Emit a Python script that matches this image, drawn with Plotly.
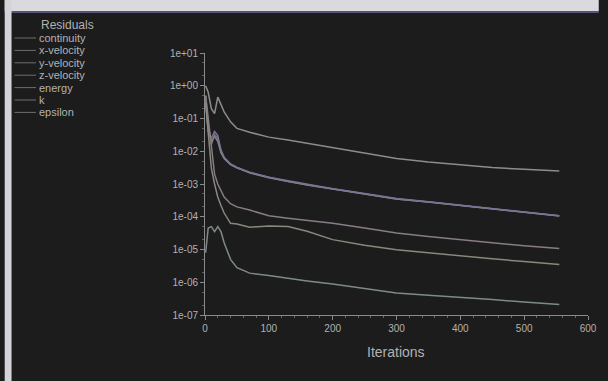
import plotly.graph_objects as go

# ---------------- data ----------------
iterations = [1, 5, 10, 15, 20, 25, 30, 40, 50, 70, 100, 130, 160, 200, 250, 300, 350, 400, 450, 500, 555]

continuity = [1.0, 0.63, 0.2, 0.14, 0.45, 0.25, 0.16, 0.079, 0.05, 0.038, 0.027, 0.022, 0.0174,
              0.0126, 8.5e-3, 6.0e-3, 4.7e-3, 3.8e-3, 3.2e-3, 2.8e-3, 2.5e-3]
x_velocity = [0.5, 0.063, 0.016, 0.032, 0.025, 0.01, 6.3e-3, 4.0e-3, 3.2e-3, 2.2e-3, 1.6e-3, 1.2e-3,
              9.5e-4, 7.1e-4, 5.0e-4, 3.5e-4, 2.8e-4, 2.2e-4, 1.8e-4, 1.4e-4, 1.07e-4]
y_velocity = [0.3, 0.05, 0.02, 0.028, 0.02, 9e-3, 6e-3, 3.9e-3, 3.1e-3, 2.2e-3, 1.55e-3, 1.2e-3,
              9.3e-4, 7e-4, 5e-4, 3.5e-4, 2.8e-4, 2.2e-4, 1.75e-4, 1.4e-4, 1.05e-4]
z_velocity = [0.4, 0.04, 0.025, 0.04, 0.03, 0.011, 6.5e-3, 4.1e-3, 3.2e-3, 2.3e-3, 1.6e-3, 1.25e-3,
              9.6e-4, 7.2e-4, 5.1e-4, 3.6e-4, 2.85e-4, 2.25e-4, 1.8e-4, 1.42e-4, 1.08e-4]
energy = [8e-6, 4.5e-5, 5e-5, 3.5e-5, 5e-5, 3.5e-5, 1.6e-5, 5e-6, 2.8e-6, 1.9e-6, 1.6e-6, 1.3e-6,
          1.1e-6, 8.9e-7, 6.3e-7, 4.7e-7, 4.0e-7, 3.5e-7, 2.95e-7, 2.5e-7, 2.1e-7]
k = [0.5, 0.1, 0.01, 2e-3, 1e-3, 6e-4, 4e-4, 2.5e-4, 2e-4, 1.6e-4, 1.07e-4, 9e-5, 7.9e-5,
     6.3e-5, 4.5e-5, 3.2e-5, 2.5e-5, 2.0e-5, 1.6e-5, 1.3e-5, 1.07e-5]
epsilon = [0.3, 0.03, 3e-3, 1e-3, 4e-4, 2.2e-4, 1.3e-4, 6.3e-5, 6e-5, 4.8e-5, 5.2e-5, 5e-5, 3.6e-5,
           2.0e-5, 1.35e-5, 9.8e-6, 7.8e-6, 6.3e-6, 5.2e-6, 4.3e-6, 3.5e-6]

series_names = ["continuity", "x-velocity", "y-velocity", "z-velocity", "energy", "k", "epsilon"]
series_values = [continuity, x_velocity, y_velocity, z_velocity, energy, k, epsilon]
series_colors = ["#8c8c8c", "#8a6c70", "#7e867e", "#74749a", "#7e8a8a", "#887c88", "#88887c"]

x_ticks = [0, 100, 200, 300, 400, 500, 600]
y_tickvals = [1e-7, 1e-6, 1e-5, 1e-4, 1e-3, 1e-2, 1e-1, 1e0, 1e1]
y_ticktext = ["1e-07", "1e-06", "1e-05", "1e-04", "1e-03", "1e-02", "1e-01", "1e+00", "1e+01"]

# ---------------- layout geometry (pixels) ----------------
W, H = 608, 381
L, R, T, B = 205, 11, 53, 66
PW, PH = W - L - R, H - T - B
FONT = "Liberation Sans, Arial, sans-serif"
TXT = "#b2b2b2"


def px(xp):
    return (xp - L) / PW


def py(yp):
    return (H - B - yp) / PH


fig = go.Figure()
for name, vals, col in zip(series_names, series_values, series_colors):
    fig.add_trace(go.Scatter(x=iterations, y=vals, mode="lines", name=name,
                             line=dict(color=col, width=1.5), showlegend=False))

shapes = [
    # light surround of the photographed screen
    dict(type="rect", xref="paper", yref="paper", x0=px(0), x1=px(W), y0=py(0), y1=py(11),
         fillcolor="#d9d9de", line_width=0, layer="above"),
    dict(type="rect", xref="paper", yref="paper", x0=px(0), x1=px(W), y0=py(11), y1=py(13),
         fillcolor="#55557a", line_width=0, layer="above"),
    dict(type="rect", xref="paper", yref="paper", x0=px(0), x1=px(7), y0=py(0), y1=py(H),
         fillcolor="#d4d4d8", line_width=0, layer="above"),
]

annotations = [
    dict(text="Residuals", xref="paper", yref="paper", x=px(35), y=py(25), xanchor="left",
         yanchor="middle", showarrow=False, font=dict(family=FONT, size=12, color=TXT)),
    dict(text="Iterations", xref="paper", yref="paper", x=px(400), y=py(352), xanchor="center",
         yanchor="middle", showarrow=False, font=dict(family=FONT, size=14, color=TXT)),
]
for i, (name, col) in enumerate(zip(series_names, series_colors)):
    yy = 38 + 12.4 * i
    shapes.append(dict(type="line", xref="paper", yref="paper", x0=px(10), x1=px(32),
                       y0=py(yy), y1=py(yy), line=dict(color="#6e6e6e", width=1)))
    annotations.append(dict(text=name, xref="paper", yref="paper", x=px(33), y=py(yy),
                            xanchor="left", yanchor="middle", showarrow=False,
                            font=dict(family=FONT, size=11, color=TXT)))

# initial size leaves room for the default 8px body margin (no scrollbars at load);
# the post script removes the margin and sets the final 608x381 size
fig.update_layout(
    width=W - 16, height=H - 16, autosize=False,
    margin=dict(l=L, r=R, t=T, b=B, pad=0),
    paper_bgcolor="#1c1c1c", plot_bgcolor="#1c1c1c",
    shapes=shapes, annotations=annotations,
    xaxis=dict(range=[0, 600], tickvals=x_ticks, showgrid=False, zeroline=False,
               showline=True, linecolor="#8a8a8a", linewidth=1,
               ticks="outside", ticklen=4, tickcolor="#8a8a8a",
               minor=dict(ticks="outside", ticklen=2, tickcolor="#666666", dtick=20),
               tickfont=dict(family=FONT, size=10, color=TXT)),
    yaxis=dict(type="log", range=[-7, 1], tickvals=y_tickvals, ticktext=y_ticktext,
               showgrid=False, zeroline=False, showline=True, linecolor="#8a8a8a", linewidth=1,
               ticks="outside", ticklen=4, tickcolor="#8a8a8a",
               minor=dict(ticks="outside", ticklen=2, tickcolor="#5e5e5e"),
               tickfont=dict(family=FONT, size=10, color=TXT)),
)

post_js = (
    "var s=document.createElement('style');"
    "s.innerHTML='html,body{margin:0;padding:0;overflow:hidden;background:#1c1c1c;}';"
    "document.head.appendChild(s);"
    "var gd=document.getElementById('{plot_id}');"
    "gd.style.width='%dpx';gd.style.height='%dpx';"
    "Plotly.relayout(gd,{width:%d,height:%d});" % (W, H, W, H)
)

fig.write_html(
    "out.html",
    config={"displayModeBar": False, "responsive": False},
    post_script=post_js,
)
